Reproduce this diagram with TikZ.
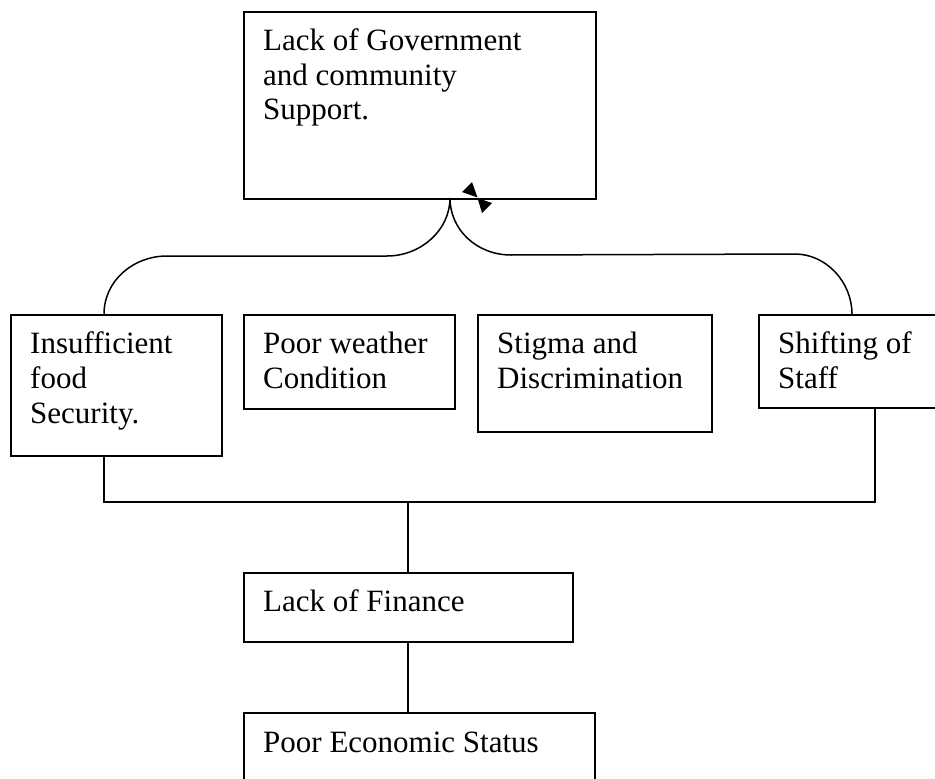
\documentclass[tikz,border=0pt]{standalone}
\usepackage{fontspec}
\setmainfont{Liberation Serif}
\usetikzlibrary{calc}
\tikzset{
  x=1pt, y=-1pt,
  box/.style={draw=black, line width=1.8pt, inner sep=0pt, anchor=north west},
  txt/.style={inner sep=0pt, anchor=base west, font=\fontsize{31}{35}\selectfont},
  conn/.style={draw=black, line width=1.5pt},
  tip/.style={fill=black, draw=none}
}
\newcommand{\boxtext}[2]{\parbox[t]{#1}{\raggedright #2}}
\begin{document}
\begin{tikzpicture}
\useasboundingbox (0,0) rectangle (935,779);
\clip (0,0) rectangle (935,779);
% boxes
\node[box, minimum width=352pt, minimum height=187pt] (G) at (243,11) {};
\node[box, minimum width=211pt, minimum height=141pt] (I) at (10,314) {};
\node[box, minimum width=211pt, minimum height=94pt] (W) at (243,314) {};
\node[box, minimum width=234pt, minimum height=117pt] (S) at (477,314) {};
\node[box, minimum width=220pt, minimum height=93pt] (H) at (758,314) {};
\node[box, minimum width=329pt, minimum height=69pt] (F) at (243,572) {};
\node[box, minimum width=351pt, minimum height=90pt] (E) at (243,712) {};
% texts
\node[txt] (Gt) at (263,50) {\boxtext{320pt}{Lack of Government\\and community\\Support.}};
\node[txt] (It) at (30,353) {\boxtext{190pt}{Insufficient\\food\\Security.}};
\node[txt] (Wt) at (263,353) {\boxtext{190pt}{Poor weather\\Condition}};
\node[txt] (St) at (497,353) {\boxtext{210pt}{Stigma and\\Discrimination}};
\node[txt] (Ht) at (778,353) {\boxtext{190pt}{Shifting of\\Staff}};
\node[txt] (Ft) at (263,611) {Lack of Finance};
\node[txt] (Et) at (263,752) {Poor Economic Status};
% connector points
\coordinate (gm) at (450,198);
\coordinate (it) at (104,314);
\coordinate (ht) at (852,314);
\coordinate (ib) at (104,455);
\coordinate (hb) at (875,407);
\coordinate (bus) at (408,502);
\coordinate (ft) at (408,572);
\coordinate (fb) at (408,641);
\coordinate (et) at (408,712);
% curved connectors to top box
\draw[conn] (it) .. controls (104,281) and (133,256) .. (167,256)
  -- (387,256) .. controls (421,256) and (450,230) .. (gm);
\draw[conn] (ht) .. controls (852,282) and (826,254) .. (795,254)
  -- (511,255) .. controls (477,255) and (450,230) .. (gm);
% arrowheads
\fill[tip] (462,192) -- (472,182) -- (477.5,197.5) -- cycle;
\fill[tip] (477.5,198) -- (492,203) -- (482,213) -- cycle;
% bus lines
\draw[conn] (ib) |- (bus) -| (hb);
\draw[conn] (bus) -- (ft);
\draw[conn] (fb) -- (et);
\end{tikzpicture}
\end{document}
